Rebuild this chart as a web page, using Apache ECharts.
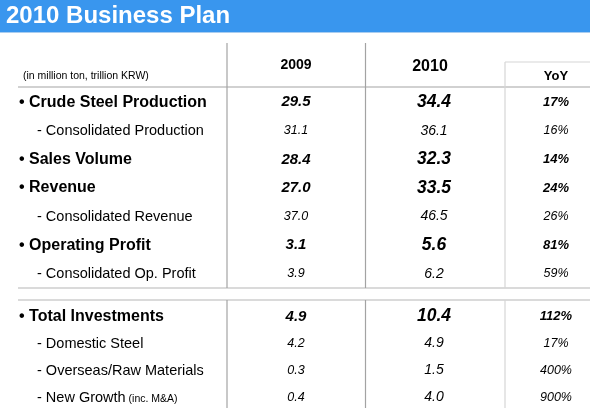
<!DOCTYPE html>
<html>
<head>
<meta charset="utf-8">
<script src="https://cdn.jsdelivr.net/npm/echarts@6/dist/echarts.min.js"></script>
<style>
html,body{margin:0;padding:0;background:#fff;}
#chart{width:590px;height:418px;}
</style>
</head>
<body>
<div id="chart"></div>
<script>
// ---- data ----
const titleText = '2010 Business Plan';
const unitNote = '(in million ton, trillion KRW)';
const columns = ['2009', '2010', 'YoY'];

const topRows = ['Crude Steel Production', 'Consolidated Production', 'Sales Volume', 'Revenue',
  'Consolidated Revenue', 'Operating Profit', 'Consolidated Op. Profit'];
const topNotes = ['', '', '', '', '', '', ''];
const topLevel = [1, 2, 1, 1, 2, 1, 2];
const top2009 = [29.5, 31.1, 28.4, 27.0, 37.0, 3.1, 3.9];
const top2010 = [34.4, 36.1, 32.3, 33.5, 46.5, 5.6, 6.2];
const topYoY = [17, 16, 14, 24, 26, 81, 59];

const invRows = ['Total Investments', 'Domestic Steel', 'Overseas/Raw Materials', 'New Growth'];
const invNotes = ['', '', '', '(inc. M&A)'];
const invLevel = [1, 2, 2, 2];
const inv2009 = [4.9, 4.2, 0.3, 0.4];
const inv2010 = [10.4, 4.9, 1.5, 4.0];
const invYoY = [112, 17, 400, 900];

// ---- layout ----
const FONT = '"Liberation Sans", Arial, Helvetica, sans-serif';
const W = 590;
const X = { main: 19, sub: 37, c2009: 296, c2010: 434, yoy: 556 };
const LINE = '#a3a3a3';
const LIGHT = '#d6d6d6';
const INK = '#000000';

const chart = echarts.init(document.getElementById('chart'), null, { renderer: 'canvas' });

const rich = {
  m: { fontFamily: FONT, fontSize: 16, fontWeight: 'bold', color: INK },
  s: { fontFamily: FONT, fontSize: 14.5, lineHeight: 16, color: INK },
  n: { fontFamily: FONT, fontSize: 10.5, lineHeight: 16, verticalAlign: 'bottom', padding: [0, 0, 1, 0], color: INK },
  unit: { fontFamily: FONT, fontSize: 10.5, color: INK },
  h9: { fontFamily: FONT, fontSize: 14, fontWeight: 'bold', color: INK },
  h10: { fontFamily: FONT, fontSize: 16, fontWeight: 'bold', color: INK },
  hy: { fontFamily: FONT, fontSize: 13, fontWeight: 'bold', color: INK },
  v9m: { fontFamily: FONT, fontSize: 15, fontWeight: 'bold', fontStyle: 'italic', color: INK },
  v9s: { fontFamily: FONT, fontSize: 12.5, fontStyle: 'italic', color: INK },
  v10m: { fontFamily: FONT, fontSize: 17.5, fontWeight: 'bold', fontStyle: 'italic', color: INK },
  v10s: { fontFamily: FONT, fontSize: 14, fontStyle: 'italic', color: INK },
  ym: { fontFamily: FONT, fontSize: 13, fontWeight: 'bold', fontStyle: 'italic', color: INK },
  ys: { fontFamily: FONT, fontSize: 12.5, fontStyle: 'italic', color: INK }
};

function baseSeries(gridIndex, data, formatter, align, offset) {
  return {
    type: 'scatter',
    xAxisIndex: gridIndex,
    yAxisIndex: gridIndex,
    symbol: 'circle',
    symbolSize: 0.5,
    itemStyle: { color: '#ffffff', opacity: 1 },
    silent: true,
    animation: false,
    data: data,
    label: {
      show: true,
      position: 'inside',
      align: align || 'center',
      verticalAlign: 'middle',
      offset: offset || [0, 0],
      color: INK,
      textBorderWidth: 0,
      formatter: formatter,
      rich: rich
    }
  };
}

function sectionSeries(gridIndex, rows, notes, levels, v9, v10, yoy) {
  const out = [];
  out.push(baseSeries(gridIndex,
    rows.map((r, i) => [levels[i] === 1 ? X.main : X.sub, r]),
    p => {
      const i = p.dataIndex;
      if (levels[i] === 1) return '{m|\u2022 ' + rows[i] + '}';
      return '{s|- ' + rows[i] + '}' + (notes[i] ? '{n| ' + notes[i] + '}' : '');
    }, 'left'));
  out.push(baseSeries(gridIndex, rows.map(r => [X.c2009, r]),
    p => '{' + (levels[p.dataIndex] === 1 ? 'v9m' : 'v9s') + '|' + v9[p.dataIndex].toFixed(1) + '}'));
  out.push(baseSeries(gridIndex, rows.map(r => [X.c2010, r]),
    p => '{' + (levels[p.dataIndex] === 1 ? 'v10m' : 'v10s') + '|' + v10[p.dataIndex].toFixed(1) + '}'));
  out.push(baseSeries(gridIndex, rows.map(r => [X.yoy, r]),
    p => '{' + (levels[p.dataIndex] === 1 ? 'ym' : 'ys') + '|' + yoy[p.dataIndex] + '%}'));
  return out;
}

const headerSeries = [
  baseSeries(0, [[X.main + 4, 'header']], () => '{unit|' + unitNote + '}', 'left', [0, 12]),
  baseSeries(0, [[X.c2009, 'header']], () => '{h9|' + columns[0] + '}', 'center', [0, 1]),
  baseSeries(0, [[X.c2010 - 4, 'header']], () => '{h10|' + columns[1] + '}', 'center', [0, 2]),
  baseSeries(0, [[X.yoy, 'header']], () => '{hy|' + columns[2] + '}', 'center', [0, 12])
];

function vline(x, y1, y2, color) {
  return { type: 'line', silent: true, shape: { x1: x, y1: y1, x2: x, y2: y2 },
    style: { stroke: color, lineWidth: 1.2 } };
}
function hline(y, x1, x2, color) {
  return { type: 'line', silent: true, shape: { x1: x1, y1: y, x2: x2, y2: y },
    style: { stroke: color, lineWidth: 1.2 } };
}

const option = {
  backgroundColor: '#fff',
  animation: false,
  title: {
    text: titleText, left: 6, top: 4, padding: 0,
    textStyle: { color: '#fff', fontFamily: FONT, fontSize: 24, fontWeight: 'bold' }
  },
  grid: [
    { left: 0, right: 0, top: 43, height: 43 },
    { left: 0, right: 0, top: 88, height: 200 },
    { left: 0, right: 0, top: 303, height: 108 }
  ],
  xAxis: [0, 1, 2].map(i => ({ type: 'value', gridIndex: i, min: 0, max: W, show: false })),
  yAxis: [
    { type: 'category', gridIndex: 0, data: ['header'], inverse: true, show: false },
    { type: 'category', gridIndex: 1, data: topRows, inverse: true, show: false },
    { type: 'category', gridIndex: 2, data: invRows, inverse: true, show: false }
  ],
  graphic: [
    { type: 'rect', z: -10, silent: true, shape: { x: 0, y: 0, width: W, height: 32 }, style: { fill: '#3996ee' } },
    hline(32.5, 0, W, '#a9cdf0'),
    hline(87, 18, W, LINE),
    hline(288, 18, W, '#b5b5b5'),
    hline(300, 18, W, '#b5b5b5'),
    vline(227, 43, 288, LINE),
    vline(227, 300, 408, LINE),
    vline(365.5, 43, 288, LINE),
    vline(365.5, 300, 408, LINE),
    vline(505, 62, 288, LIGHT),
    vline(505, 300, 408, LIGHT),
    hline(62, 505, W, LIGHT)
  ],
  series: [].concat(
    headerSeries,
    sectionSeries(1, topRows, topNotes, topLevel, top2009, top2010, topYoY),
    sectionSeries(2, invRows, invNotes, invLevel, inv2009, inv2010, invYoY)
  )
};

chart.setOption(option);
</script>
</body>
</html>
